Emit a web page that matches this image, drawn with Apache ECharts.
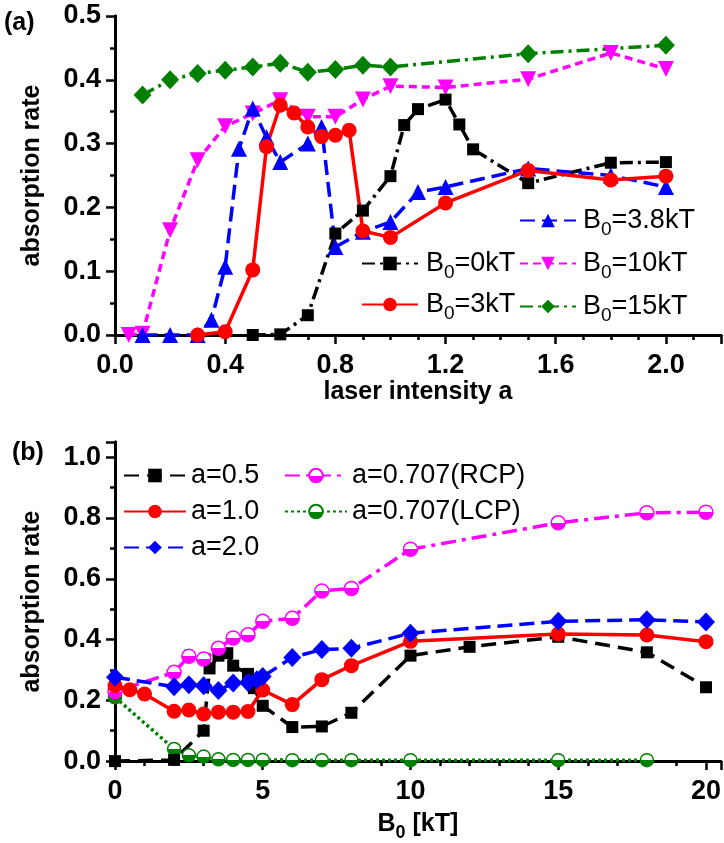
<!DOCTYPE html>
<html>
<head>
<meta charset="utf-8">
<script src="https://cdn.jsdelivr.net/npm/echarts@6/dist/echarts.min.js"></script>
<style>
  html, body { margin: 0; padding: 0; background: #fff; }
  #chart { width: 724px; height: 843px; }
</style>
</head>
<body>
<div id="chart"></div>
<script>
// ---- (a) absorption rate vs laser intensity a, for several B0 ----
const aB0_0   = [0.5, 0.6, 0.7, 0.8, 0.9, 1.0, 1.05, 1.1, 1.2, 1.25, 1.3, 1.5, 1.8, 2.0];
const rateB0_0 = [0, 0.001, 0.031, 0.159, 0.195, 0.249, 0.329, 0.354, 0.369, 0.330, 0.291, 0.238, 0.270, 0.271];

const aB0_3   = [0.3, 0.4, 0.5, 0.55, 0.6, 0.65, 0.7, 0.75, 0.8, 0.85, 0.9, 1.0, 1.2, 1.5, 1.8, 2.0];
const rateB0_3 = [0, 0.005, 0.102, 0.295, 0.360, 0.348, 0.326, 0.311, 0.313, 0.321, 0.163, 0.153, 0.207, 0.258, 0.243, 0.249];

const aB0_38   = [0.1, 0.2, 0.3, 0.35, 0.4, 0.45, 0.5, 0.55, 0.6, 0.7, 0.75, 0.8, 0.9, 1.0, 1.1, 1.2, 1.5, 1.8, 2.0];
const rateB0_38 = [0, 0, 0, 0.024, 0.107, 0.292, 0.355, 0.310, 0.271, 0.300, 0.326, 0.138, 0.162, 0.177, 0.224, 0.232, 0.261, 0.250, 0.232];

const aB0_10   = [0.05, 0.1, 0.2, 0.3, 0.4, 0.5, 0.6, 0.7, 0.8, 0.9, 1.0, 1.2, 1.5, 1.8, 2.0];
const rateB0_10 = [0, 0.002, 0.164, 0.274, 0.327, 0.347, 0.368, 0.342, 0.342, 0.369, 0.390, 0.388, 0.401, 0.442, 0.417];

const aB0_15   = [0.1, 0.2, 0.3, 0.4, 0.5, 0.6, 0.7, 0.8, 0.9, 1.0, 1.5, 2.0];
const rateB0_15 = [0.376, 0.400, 0.410, 0.415, 0.420, 0.426, 0.412, 0.416, 0.423, 0.420, 0.441, 0.454];

// ---- (b) absorption rate vs B0, for several a ----
const b_a05    = [0, 2, 3, 3.2, 3.5, 3.8, 4, 4.5, 4.7, 5, 6, 7, 8, 10, 12, 15, 18, 20];
const rate_a05 = [0, 0.004, 0.10, 0.305, 0.347, 0.355, 0.314, 0.287, 0.24, 0.182, 0.112, 0.114, 0.159, 0.347, 0.376, 0.409, 0.358, 0.243];

const b_a10    = [0, 0.5, 1, 2, 2.5, 3, 3.5, 4, 4.5, 5, 6, 7, 8, 10, 15, 18, 20];
const rate_a10 = [0.248, 0.235, 0.221, 0.164, 0.168, 0.155, 0.161, 0.161, 0.163, 0.234, 0.186, 0.268, 0.314, 0.394, 0.418, 0.415, 0.393];

const b_a20    = [0, 2, 2.5, 3, 3.5, 4, 4.5, 4.8, 5, 6, 7, 8, 10, 15, 18, 20];
const rate_a20 = [0.276, 0.245, 0.251, 0.248, 0.232, 0.257, 0.259, 0.268, 0.278, 0.341, 0.367, 0.371, 0.421, 0.460, 0.465, 0.458];

const b_rcp    = [0, 2, 2.5, 3, 3.5, 4, 4.5, 5, 6, 7, 8, 10, 15, 18, 20];
const rate_rcp = [0.229, 0.292, 0.345, 0.336, 0.371, 0.405, 0.416, 0.46, 0.47, 0.56, 0.568, 0.697, 0.784, 0.817, 0.819];

const b_lcp    = [0, 2, 2.5, 3, 3.5, 4, 4.5, 5, 6, 7, 8, 10, 15, 18];
const rate_lcp = [0.21, 0.04, 0.019, 0.015, 0.006, 0.004, 0.004, 0.004, 0.003, 0.003, 0.003, 0.003, 0.003, 0.003];

// ---- axis tick settings ----
const xTicksA = { min: 0, max: 2.2, major: 0.4, minor: 0.1 };
const yTicksA = { min: 0, max: 0.5, major: 0.1, minor: 0.05 };
const xTicksB = { min: 0, max: 20.5, major: 5, minor: 1 };
const yTicksB = { min: 0, max: 1.05, major: 0.2, minor: 0.1 };

const FONT = '"Liberation Sans", Arial, sans-serif';
const zip = (xs, ys) => xs.map((x, i) => [x, ys[i]]);

const halfFill = c => ({
  type: 'linear', x: 0, y: 0, x2: 0, y2: 1,
  colorStops: [{ offset: 0, color: '#fff' }, { offset: 0.5, color: '#fff' },
               { offset: 0.5, color: c }, { offset: 1, color: c }]
});

// one grid gets four axes per direction: main + minor ticks on both sides
function axesFor(dir, grid, t, labelFmt, nameOpt) {
  const tickW = 2.5, axisW = 3;
  const common = { type: 'value', gridIndex: grid, min: t.min, max: t.max, splitLine: { show: false } };
  const posA = dir === 'x' ? 'bottom' : 'left';
  const posB = dir === 'x' ? 'top' : 'right';
  const main = Object.assign({}, common, {
    position: posA, interval: t.major,
    axisLine: { show: true, lineStyle: { color: '#000', width: axisW } },
    axisTick: { show: true, inside: false, length: 9, lineStyle: { color: '#000', width: tickW } },
    axisLabel: { show: true, margin: dir === 'x' ? 17 : 14, color: '#000', fontSize: 27, fontWeight: 'bold',
                 fontFamily: FONT, formatter: labelFmt }
  }, nameOpt || {});
  const minorA = Object.assign({}, common, {
    position: posA, interval: t.minor,
    axisLine: { show: false },
    axisTick: { show: true, inside: false, length: 5, lineStyle: { color: '#000', width: tickW } },
    axisLabel: { show: false }
  });
  const mainB = Object.assign({}, common, {
    position: posB, interval: t.major,
    axisLine: { show: true, lineStyle: { color: '#000', width: axisW } },
    axisTick: { show: true, inside: true, length: 9, lineStyle: { color: '#000', width: tickW } },
    axisLabel: { show: false }
  });
  const minorB = Object.assign({}, common, {
    position: posB, interval: t.minor,
    axisLine: { show: false },
    axisTick: { show: true, inside: true, length: 5, lineStyle: { color: '#000', width: tickW } },
    axisLabel: { show: false }
  });
  return [main, minorA, mainB, minorB];
}

const richB = {
  m: { fontSize: 27, lineHeight: 27, fontFamily: FONT, color: '#000' },
  s: { fontSize: 19, lineHeight: 19, fontFamily: FONT, color: '#000', padding: [18, 0, 0, 0] }
};
const richBbold = {
  m: { fontSize: 25, lineHeight: 25, fontFamily: FONT, fontWeight: 'bold', color: '#000' },
  s: { fontSize: 18, lineHeight: 18, fontFamily: FONT, fontWeight: 'bold', color: '#000', padding: [18, 0, 0, 0] }
};

const xAxes = [
  ...axesFor('x', 0, xTicksA, v => (v > 2.1 ? '' : v.toFixed(1)), {
    name: 'laser intensity a', nameLocation: 'middle', nameGap: 38,
    nameTextStyle: { fontSize: 25, fontWeight: 'bold', fontFamily: FONT, color: '#000' }
  }),
  ...axesFor('x', 1, xTicksB, v => (v > 20.1 ? '' : String(Math.round(v))), {
    name: '{m|B}{s|0}{m| [kT]}', nameLocation: 'middle', nameGap: 31,
    nameTextStyle: { fontSize: 25, fontWeight: 'bold', fontFamily: FONT, color: '#000', rich: richBbold }
  })
];
const yAxes = [
  ...axesFor('y', 0, yTicksA, v => v.toFixed(1), {
    name: 'absorption rate', nameLocation: 'middle', nameGap: 70,
    nameTextStyle: { fontSize: 25, fontWeight: 'bold', fontFamily: FONT, color: '#000' }
  }),
  ...axesFor('y', 1, yTicksB, v => (v > 1.01 ? '' : v.toFixed(1)), {
    name: 'absorption rate', nameLocation: 'middle', nameGap: 70,
    nameTextStyle: { fontSize: 25, fontWeight: 'bold', fontFamily: FONT, color: '#000' }
  })
];

function line(name, grid, data, color, dash, symbol, size, extra) {
  return Object.assign({
    name, type: 'line', xAxisIndex: grid * 4, yAxisIndex: grid * 4,
    data, symbol, symbolSize: size, showSymbol: true, showAllSymbol: true,
    lineStyle: { color, width: 3.5, type: dash },
    itemStyle: { color, borderWidth: 0 },
    emphasis: { disabled: true }, z: 3
  }, extra || {});
}

const series = [
  line('B0=15kT', 0, zip(aB0_15, rateB0_15), '#008000', [13, 5, 3, 5], 'diamond', [18, 19]),
  line('B0=10kT', 0, zip(aB0_10, rateB0_10), '#ff00ff', [8, 5], 'triangle', 16, { symbolRotate: 180 }),
  line('B0=0kT', 0, zip(aB0_0, rateB0_0), '#000000', [13, 5, 3, 5], 'rect', 12),
  line('B0=3.8kT', 0, zip(aB0_38, rateB0_38), '#0000ff', [15, 7], 'triangle', 16),
  line('B0=3kT', 0, zip(aB0_3, rateB0_3), '#ff0000', 'solid', 'circle', 15),

  line('a=0.707(LCP)', 1, zip(b_lcp, rate_lcp), '#008000', [3, 3], 'circle', 13,
       { itemStyle: { color: halfFill('#008000'), borderColor: '#008000', borderWidth: 1.5 } }),
  line('a=0.5', 1, zip(b_a05, rate_a05), '#000000', [15, 8], 'rect', 12),
  line('a=0.707(RCP)', 1, zip(b_rcp, rate_rcp), '#ff00ff', [15, 6, 4, 6], 'circle', 14,
       { itemStyle: { color: halfFill('#ff00ff'), borderColor: '#ff00ff', borderWidth: 1.5 } }),
  line('a=1.0', 1, zip(b_a10, rate_a10), '#ff0000', 'solid', 'circle', 15),
  line('a=2.0', 1, zip(b_a20, rate_a20), '#0000ff', [15, 7], 'diamond', [18, 19])
];

const legendBase = {
  orient: 'vertical', itemWidth: 56, itemHeight: 17, selectedMode: false,
  inactiveColor: '#000'
};
const fmtB = n => '{m|B}{s|0}{m|' + n.slice(2) + '}';

const legends = [
  Object.assign({}, legendBase, {
    left: 356, top: 240, itemGap: 4, data: ['B0=0kT', 'B0=3kT'],
    formatter: fmtB, textStyle: { rich: richB, padding: [0, 0, 0, 3] }
  }),
  Object.assign({}, legendBase, {
    left: 514, top: 197, itemGap: 6, data: ['B0=3.8kT', 'B0=10kT', 'B0=15kT'],
    formatter: fmtB, textStyle: { rich: richB, padding: [0, 0, 0, 2] }
  }),
  Object.assign({}, legendBase, {
    left: 118, top: 455, itemGap: 5, itemWidth: 62, data: ['a=0.5', 'a=1.0', 'a=2.0'],
    textStyle: { fontSize: 27, lineHeight: 31, fontFamily: FONT, color: '#000', padding: [0, 0, 0, 0] }
  }),
  Object.assign({}, legendBase, {
    left: 279, top: 455, itemGap: 5, itemWidth: 62, data: ['a=0.707(RCP)', 'a=0.707(LCP)'],
    textStyle: { fontSize: 27, lineHeight: 31, fontFamily: FONT, color: '#000', padding: [0, 0, 0, 0] }
  })
];

const chart = echarts.init(document.getElementById('chart'), null, { renderer: 'canvas' });
chart.setOption({
  animation: false,
  backgroundColor: '#fff',
  grid: [
    { left: 115, top: 16, width: 608, height: 319, containLabel: false },
    { left: 115, top: 442, width: 608, height: 320, containLabel: false }
  ],
  xAxis: xAxes,
  yAxis: yAxes,
  legend: legends,
  series,
  graphic: [
    { type: 'text', left: 4, top: 11, style: { text: '(a)', fontSize: 25, fontWeight: 'bold', fontFamily: FONT, fill: '#000' } },
    { type: 'text', left: 12, top: 441, style: { text: '(b)', fontSize: 25, fontWeight: 'bold', fontFamily: FONT, fill: '#000' } }
  ]
});
</script>
</body>
</html>
